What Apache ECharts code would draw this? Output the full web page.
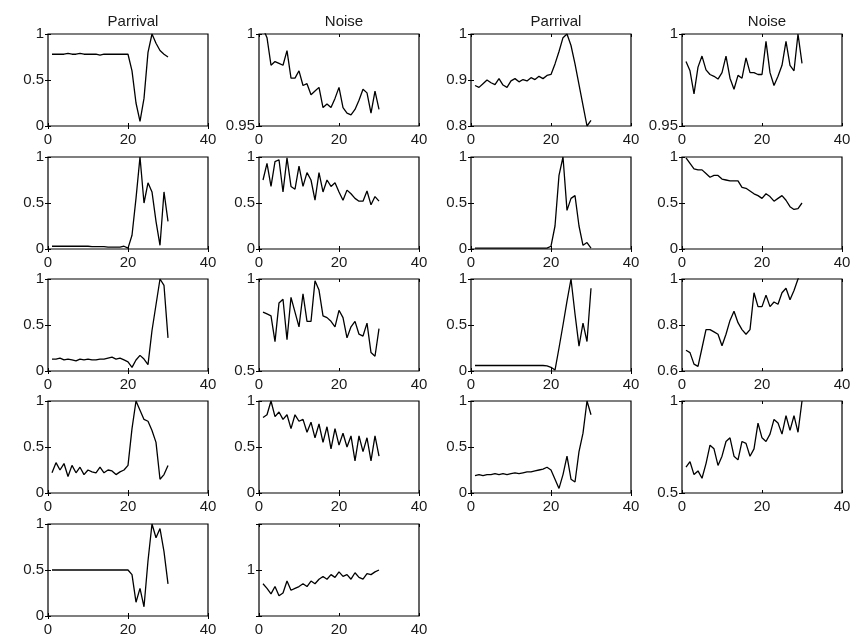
<!DOCTYPE html>
<html><head><meta charset="utf-8">
<script src="https://cdn.jsdelivr.net/npm/echarts@6/dist/echarts.min.js"></script>
<style>html,body{margin:0;padding:0;background:#fff}#c{width:861px;height:640px}</style>
</head><body><div id="c"></div>
<script>
// sample index (x values) shared by every panel
const xs = [1,2,3,4,5,6,7,8,9,10,11,12,13,14,15,16,17,18,19,20,21,22,23,24,25,26,27,28,29,30];
const columnTitles = ['Parrival','Noise','Parrival','Noise'];
const xTicks = [0,20,40];

// Row 1
const r1c1 = [0.78,0.78,0.78,0.78,0.79,0.78,0.78,0.79,0.78,0.78,0.78,0.78,0.77,0.78,0.78,0.78,0.78,0.78,0.78,0.78,0.6,0.25,0.05,0.3,0.8,1.0,0.9,0.82,0.78,0.75];
const r1c2 = [1.003,0.998,0.983,0.985,0.984,0.983,0.991,0.976,0.976,0.980,0.972,0.973,0.967,0.969,0.971,0.960,0.962,0.960,0.965,0.971,0.960,0.957,0.956,0.959,0.964,0.970,0.968,0.957,0.969,0.959];
const r1c3 = [0.888,0.884,0.892,0.900,0.894,0.890,0.903,0.889,0.884,0.898,0.903,0.896,0.901,0.898,0.905,0.901,0.908,0.903,0.910,0.912,0.935,0.962,0.992,1.0,0.975,0.935,0.890,0.845,0.800,0.812];
const r1c4 = [0.985,0.980,0.9675,0.982,0.988,0.9805,0.978,0.977,0.9755,0.979,0.988,0.976,0.970,0.9775,0.976,0.987,0.979,0.979,0.978,0.978,0.996,0.979,0.972,0.977,0.983,0.996,0.983,0.980,1.0,0.984];
// Row 2
const r2c1 = [0.03,0.03,0.03,0.03,0.03,0.03,0.03,0.03,0.03,0.03,0.025,0.025,0.025,0.025,0.02,0.02,0.02,0.02,0.03,0.01,0.15,0.55,1.0,0.5,0.72,0.62,0.3,0.04,0.62,0.3];
const r2c2 = [0.75,0.93,0.68,0.95,0.97,0.62,0.99,0.68,0.65,0.90,0.68,0.83,0.75,0.53,0.83,0.62,0.75,0.68,0.72,0.62,0.53,0.64,0.60,0.55,0.52,0.52,0.63,0.48,0.57,0.52];
const r2c3 = [0.01,0.01,0.01,0.01,0.01,0.01,0.01,0.01,0.01,0.01,0.01,0.01,0.01,0.01,0.01,0.01,0.01,0.01,0.01,0.03,0.25,0.8,1.0,0.42,0.55,0.58,0.25,0.04,0.07,0.01];
const r2c4 = [0.99,0.93,0.87,0.86,0.86,0.82,0.78,0.80,0.80,0.76,0.75,0.74,0.74,0.74,0.67,0.66,0.63,0.60,0.58,0.55,0.60,0.57,0.52,0.55,0.58,0.53,0.46,0.43,0.44,0.50];
// Row 3
const r3c1 = [0.13,0.13,0.14,0.12,0.13,0.12,0.11,0.13,0.12,0.13,0.12,0.12,0.13,0.13,0.14,0.15,0.13,0.14,0.12,0.10,0.04,0.12,0.17,0.13,0.07,0.44,0.72,1.0,0.93,0.36];
const r3c2 = [0.82,0.81,0.80,0.66,0.87,0.89,0.67,0.90,0.82,0.74,0.92,0.77,0.77,0.99,0.94,0.80,0.79,0.77,0.74,0.83,0.79,0.68,0.74,0.77,0.70,0.69,0.76,0.60,0.58,0.73];
const r3c3 = [0.06,0.06,0.06,0.06,0.06,0.06,0.06,0.06,0.06,0.06,0.06,0.06,0.06,0.06,0.06,0.06,0.06,0.06,0.055,0.04,0.01,0.25,0.5,0.76,1.0,0.62,0.27,0.52,0.32,0.90];
const r3c4 = [0.69,0.68,0.63,0.62,0.70,0.78,0.78,0.77,0.76,0.71,0.76,0.82,0.86,0.81,0.78,0.76,0.78,0.94,0.88,0.88,0.93,0.88,0.90,0.89,0.94,0.96,0.91,0.95,1.0,1.04];
// Row 4
const r4c1 = [0.22,0.33,0.25,0.32,0.18,0.30,0.22,0.28,0.20,0.25,0.23,0.22,0.28,0.22,0.25,0.24,0.20,0.23,0.25,0.30,0.70,1.0,0.90,0.80,0.78,0.68,0.55,0.15,0.20,0.30];
const r4c2 = [0.82,0.85,1.0,0.83,0.88,0.80,0.85,0.70,0.85,0.78,0.80,0.66,0.77,0.60,0.75,0.55,0.72,0.48,0.70,0.52,0.65,0.50,0.62,0.35,0.62,0.45,0.60,0.35,0.62,0.40];
const r4c3 = [0.19,0.20,0.19,0.20,0.20,0.21,0.20,0.21,0.20,0.21,0.22,0.21,0.22,0.23,0.23,0.24,0.25,0.26,0.28,0.25,0.15,0.05,0.20,0.40,0.15,0.12,0.45,0.65,1.0,0.85];
const r4c4 = [0.64,0.67,0.60,0.62,0.58,0.66,0.76,0.74,0.65,0.70,0.78,0.80,0.70,0.68,0.78,0.77,0.70,0.74,0.88,0.80,0.78,0.82,0.90,0.88,0.82,0.92,0.84,0.92,0.83,1.0];
// Row 5
const r5c1 = [0.5,0.5,0.5,0.5,0.5,0.5,0.5,0.5,0.5,0.5,0.5,0.5,0.5,0.5,0.5,0.5,0.5,0.5,0.5,0.5,0.45,0.15,0.3,0.1,0.6,1.0,0.85,0.95,0.7,0.35];
const r5c2 = [0.85,0.80,0.74,0.82,0.72,0.75,0.88,0.78,0.80,0.82,0.85,0.82,0.88,0.85,0.90,0.93,0.90,0.95,0.92,0.98,0.93,0.95,0.90,0.97,0.92,0.90,0.96,0.95,0.98,1.0];

// y-axis ranges / ticks per panel
const yTicksR1 = [[0,0.5,1],[0.95,1],[0.8,0.9,1],[0.95,1]];
const yTicksR2 = [[0,0.5,1],[0,0.5,1],[0,0.5,1],[0,0.5,1]];
const yTicksR3 = [[0,0.5,1],[0.5,1],[0,0.5,1],[0.6,0.8,1]];
const yTicksR4 = [[0,0.5,1],[0,0.5,1],[0,0.5,1],[0.5,1]];
const yTicksR5 = [[0,0.5,1],[0.5,1,1.5]];
const r5c2Shown = [1];

const panels = [
  [r1c1,r1c2,r1c3,r1c4],
  [r2c1,r2c2,r2c3,r2c4],
  [r3c1,r3c2,r3c3,r3c4],
  [r4c1,r4c2,r4c3,r4c4],
  [r5c1,r5c2]
];
const ticks = [yTicksR1,yTicksR2,yTicksR3,yTicksR4,yTicksR5];

const colLeft = [48,259,471,682];
const rowTop = [34,157,279,401,524];
const W = 160, H = 92;
const font = 'Liberation Sans, Arial, Helvetica, sans-serif';
const txt = '#1a1a1a';

const grid=[], xAxis=[], yAxis=[], series=[], title=[];
let gi = 0;
panels.forEach((row, r) => {
  row.forEach((vals, c) => {
    grid.push({left: colLeft[c], top: rowTop[r], width: W, height: H, show: true, borderColor: '#000', borderWidth: 1.2, backgroundColor: '#fff'});
    const common = {gridIndex: gi, type: 'value', axisLine: {show: false}, splitLine: {show: false}};
    xAxis.push(Object.assign({}, common, {min: 0, max: 40, interval: 20,
      axisTick: {inside: true, length: 3, lineStyle: {color: '#000'}},
      axisLabel: {fontFamily: font, fontSize: 15, color: txt, margin: 6}}));
    xAxis.push(Object.assign({}, common, {position: 'top', min: 0, max: 40, interval: 20,
      axisTick: {inside: true, length: 3, lineStyle: {color: '#000'}}, axisLabel: {show: false}}));
    const t = ticks[r][c];
    const mn = t[0], mx = t[t.length-1], iv = +(t[1]-t[0]).toFixed(4);
    const onlyOne = (r === 4 && c === 1);
    yAxis.push(Object.assign({}, common, {min: mn, max: mx, interval: iv,
      axisTick: {inside: true, length: 3, lineStyle: {color: '#000'}},
      axisLabel: {fontFamily: font, fontSize: 15, color: txt, margin: 4,
        formatter: v => onlyOne ? (r5c2Shown.indexOf(+v.toFixed(3)) >= 0 ? String(+v.toFixed(3)) : '') : String(+v.toFixed(3))}}));
    yAxis.push(Object.assign({}, common, {position: 'right', min: mn, max: mx, interval: iv,
      axisTick: {inside: true, length: 3, lineStyle: {color: '#000'}}, axisLabel: {show: false}}));
    series.push({type: 'line', xAxisIndex: 2*gi, yAxisIndex: 2*gi, data: xs.map((x,i) => [x, vals[i]]),
      showSymbol: false, symbol: 'none', lineStyle: {color: '#000', width: 1.3}, clip: true, animation: false});
    gi++;
  });
});
columnTitles.forEach((t, c) => {
  title.push({text: t, left: colLeft[c] + W/2, top: 9, textAlign: 'center',
    textStyle: {fontFamily: font, fontSize: 15, fontWeight: 'normal', color: txt}});
});

const chart = echarts.init(document.getElementById('c'), null, {renderer: 'canvas'});
chart.setOption({animation: false, backgroundColor: '#fff', title, grid, xAxis, yAxis, series});
</script></body></html>
